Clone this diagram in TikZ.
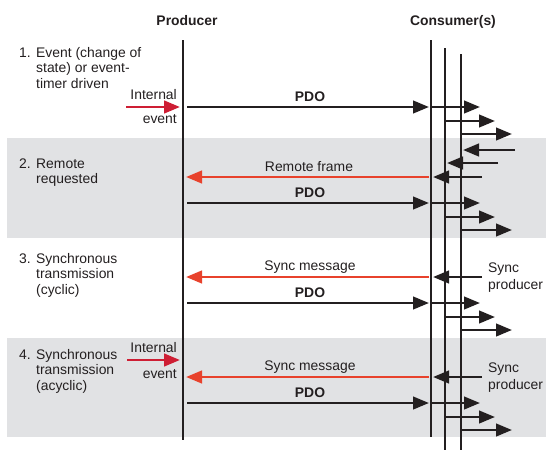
\documentclass[tikz,border=0pt]{standalone}
\usepackage{fontspec}
\setmainfont{Liberation Sans}
\usetikzlibrary{arrows.meta}
\definecolor{band}{RGB}{225,226,228}
\definecolor{msgred}{RGB}{232,66,44}
\definecolor{evred}{RGB}{206,30,52}
\definecolor{ink}{RGB}{35,31,32}

\begin{document}
\begin{tikzpicture}[x=1pt,y=-1pt,
  every node/.style={inner sep=0pt, text=ink, font=\fontsize{13.9}{15.5}\selectfont},
  head/.style={font=\fontsize{13.9}{15.5}\selectfont\bfseries},
  lifeline/.style={line width=2.9pt, draw=ink},
  tip/.style={-{Triangle[length=16pt,width=12.5pt]}},
  msg/.style={line width=2.7pt, draw=ink, tip},
  redmsg/.style={line width=2.7pt, draw=msgred, tip},
  evarrow/.style={line width=2.9pt, draw=evred, tip},
  lbl/.style={anchor=base},
  txt/.style={anchor=base west},
  rtxt/.style={anchor=base east}]
\useasboundingbox (0,0) rectangle (546,450);

% shaded bands for cases 2 and 4
\fill[band] (7,138) rectangle (546,238);
\fill[band] (7,338) rectangle (546,437);

% headings
\node[head, lbl] (hprod) at (187,25) {Producer};
\node[head, lbl] (hcons) at (453,25) {Consumer(s)};

% lifelines
\coordinate (Ptop) at (183,40);  \coordinate (Pbot) at (183,440);
\coordinate (C1top) at (431,40); \coordinate (C1bot) at (431,437);
\coordinate (C2top) at (445,48); \coordinate (C2bot) at (445,450);
\coordinate (C3top) at (461,54); \coordinate (C3bot) at (461,450);
\draw[lifeline] (Ptop) -- (Pbot);
\draw[lifeline] (C1top) -- (C1bot);
\draw[lifeline] (C2top) -- (C2bot);
\draw[lifeline] (C3top) -- (C3bot);

% PDO from producer and fan-out to the consumers
\foreach \i/\y in {1/107,2/203,3/303,4/403}{
  \coordinate (pdoS\i) at ([xshift=4pt]Ptop |- 0,\y);
  \coordinate (pdoE\i) at ([xshift=-2pt]C1top |- 0,\y);
  \draw[msg] (pdoS\i) -- (pdoE\i);
  \node[head, lbl] (pdoL\i) at (310,\y-6) {PDO};
  \coordinate (fa\i) at (C1top |- 0,\y);
  \coordinate (fb\i) at (C2top |- 0,\y+14);
  \coordinate (fc\i) at (C3top |- 0,\y+27);
  \draw[msg] (fa\i) -- ++(49,0);
  \draw[msg] (fb\i) -- ++(50,0);
  \draw[msg] (fc\i) -- ++(51,0);
}

% case 2: remote requests from the consumers
\coordinate (r3) at (515,150); \coordinate (r3e) at ([xshift=2pt]C3top |- r3);
\coordinate (r2) at (498,163); \coordinate (r2e) at ([xshift=2pt]C2top |- r2);
\coordinate (r1) at (482,177); \coordinate (r1e) at ([xshift=2pt]C1top |- r1);
\draw[msg] (r3) -- (r3e);
\draw[msg] (r2) -- (r2e);
\draw[msg] (r1) -- (r1e);
\coordinate (rfS) at ([xshift=-2pt]C1top |- 0,177);
\coordinate (rfE) at ([xshift=3pt]Ptop |- 0,177);
\draw[redmsg] (rfS) -- (rfE);
\node[lbl] (rfL) at (309,171) {Remote frame};

% cases 3 and 4: sync producer and sync message
\foreach \i/\y in {3/277,4/377}{
  \coordinate (sp\i) at (482,\y);
  \coordinate (spe\i) at ([xshift=2pt]C1top |- sp\i);
  \draw[msg] (sp\i) -- (spe\i);
  \coordinate (smS\i) at ([xshift=-2pt]C1top |- 0,\y);
  \coordinate (smE\i) at ([xshift=3pt]Ptop |- 0,\y);
  \draw[redmsg] (smS\i) -- (smE\i);
  \node[lbl] (smL\i) at (310,\y-7) {Sync message};
  \node[txt] (spA\i) at (488,\y-5) {Sync};
  \node[txt] (spB\i) at (488,\y+12) {producer};
}

% internal events
\coordinate (ie1s) at (126,107); \coordinate (ie1e) at (180,107);
\coordinate (ie4s) at (127,360); \coordinate (ie4e) at (180,360);
\draw[evarrow] (ie1s) -- (ie1e);
\draw[evarrow] (ie4s) -- (ie4e);
\node[rtxt] (ie1a) at (177,99) {Internal};
\node[rtxt] (ie1b) at (177,123) {event};
\node[rtxt] (ie4a) at (177,352) {Internal};
\node[rtxt] (ie4b) at (177,378) {event};

% case descriptions
\node[txt] (n1) at (19,57) {1.};
\node[txt] (t1a) at (36,57) {Event (change of};
\node[txt] (t1b) at (36,72.5) {state) or event-};
\node[txt] (t1c) at (36,88) {timer driven};

\node[txt] (n2) at (19,168) {2.};
\node[txt] (t2a) at (36,168) {Remote};
\node[txt] (t2b) at (36,183.5) {requested};

\node[txt] (n3) at (19,263) {3.};
\node[txt] (t3a) at (36,263) {Synchronous};
\node[txt] (t3b) at (36,278.5) {transmission};
\node[txt] (t3c) at (36,294) {(cyclic)};

\node[txt] (n4) at (19,359) {4.};
\node[txt] (t4a) at (36,359) {Synchronous};
\node[txt] (t4b) at (36,374.5) {transmission};
\node[txt] (t4c) at (36,390) {(acyclic)};
\end{tikzpicture}
\end{document}
